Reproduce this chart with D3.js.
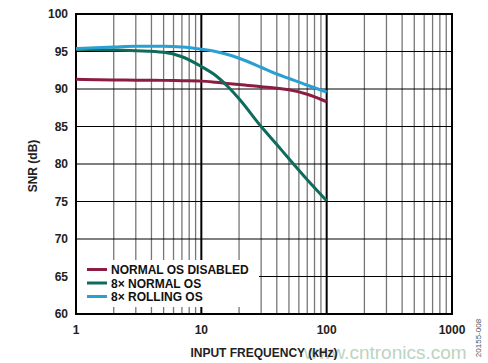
<!DOCTYPE html>
<html lang="en">
<head>
  <meta charset="utf-8">
  <script src="https://d3js.org/d3.v7.min.js"></script>
  <style>
    body { margin: 0; background: white; font-family: 'Liberation Sans', Arial, sans-serif; }
    .tick-label { font-size: 12px; font-weight: bold; fill: #222; }
    .axis-title { font-size: 12px; font-weight: bold; fill: #222; }
    .legend text { font-size: 12px; font-weight: bold; fill: #111; }
  </style>
</head>
<body>
  <svg id="chart" width="488" height="363"></svg>
  <script>
    // data
    const freqs = [1, 2, 3, 5, 7, 10, 13, 17, 20, 30, 40, 50, 70, 100];
    const normalDisabled = [91.3, 91.2, 91.18, 91.15, 91.1, 91.05, 90.9, 90.7, 90.6, 90.3, 90.1, 89.9, 89.3, 88.3];
    const normal8x = [95.3, 95.2, 95.1, 94.9, 94.3, 93.0, 91.8, 90.0, 88.7, 85.0, 82.6, 80.7, 77.9, 75.1];
    const rolling8x = [95.4, 95.6, 95.7, 95.7, 95.6, 95.3, 95.0, 94.5, 94.1, 92.9, 92.0, 91.4, 90.5, 89.6];
    const yTicks = [60, 65, 70, 75, 80, 85, 90, 95, 100];
    const xTicks = [1, 10, 100, 1000];
    const seriesNames = ["NORMAL OS DISABLED", "8\u00d7 NORMAL OS", "8\u00d7 ROLLING OS"];
    const seriesColors = ["#8c1d40", "#0f6b5c", "#2a9fd2"];

    const margin = {left: 76, right: 36, top: 14, bottom: 49};
    const W = 488, H = 363;
    const svg = d3.select("#chart");

    const x = d3.scaleLog().domain([1, 1000]).range([margin.left, W - margin.right]);
    const y = d3.scaleLinear().domain([60, 100]).range([H - margin.bottom, margin.top]);

    const grid = svg.append("g");
    // minor vertical grid
    const minor = [];
    [1, 10, 100].forEach(d => { for (let k = 2; k <= 9; k++) minor.push(d * k); });
    grid.selectAll(".minor").data(minor).enter().append("line")
      .attr("x1", d => x(d)).attr("x2", d => x(d))
      .attr("y1", y(100)).attr("y2", y(60))
      .attr("stroke", "#777").attr("stroke-width", 1.3);
    // horizontal grid
    grid.selectAll(".h").data(yTicks).enter().append("line")
      .attr("x1", x(1)).attr("x2", x(1000))
      .attr("y1", d => y(d)).attr("y2", d => y(d))
      .attr("stroke", "#000").attr("stroke-width", 1);
    // decade lines
    grid.selectAll(".major").data([10, 100]).enter().append("line")
      .attr("x1", d => x(d)).attr("x2", d => x(d))
      .attr("y1", y(100)).attr("y2", y(60))
      .attr("stroke", "#000").attr("stroke-width", 2);

    // legend background covers grid
    svg.append("rect")
      .attr("x", x(1) + 1).attr("y", 260)
      .attr("width", 182).attr("height", 47)
      .attr("fill", "white");

    // frame
    svg.append("rect")
      .attr("x", x(1)).attr("y", y(100))
      .attr("width", x(1000) - x(1)).attr("height", y(60) - y(100))
      .attr("fill", "none").attr("stroke", "#000").attr("stroke-width", 2);

    // curves
    const line = d3.line().curve(d3.curveMonotoneX)
      .x(d => x(d[0])).y(d => y(d[1]));
    [normalDisabled, normal8x, rolling8x].forEach((vals, i) => {
      svg.append("path")
        .datum(freqs.map((f, j) => [f, vals[j]]))
        .attr("d", line)
        .attr("fill", "none")
        .attr("stroke", seriesColors[i])
        .attr("stroke-width", 3);
    });

    // tick labels
    svg.selectAll(".yl").data(yTicks).enter().append("text")
      .attr("class", "tick-label")
      .attr("x", 68).attr("y", d => y(d) + 4)
      .attr("text-anchor", "end")
      .text(d => d);
    svg.selectAll(".xl").data(xTicks).enter().append("text")
      .attr("class", "tick-label")
      .attr("x", d => x(d)).attr("y", 334)
      .attr("text-anchor", "middle")
      .text(d => d);

    // watermark
    svg.append("text")
      .attr("x", 304).attr("y", 359)
      .attr("font-size", 19).attr("fill", "#bcd3bf")
      .text("www.cntronics.com");

    // axis titles
    svg.append("text")
      .attr("class", "axis-title")
      .attr("x", (x(1) + x(1000)) / 2).attr("y", 357)
      .attr("text-anchor", "middle")
      .text("INPUT FREQUENCY (kHz)");
    svg.append("text")
      .attr("class", "axis-title")
      .attr("transform", "translate(37,166) rotate(-90)")
      .attr("text-anchor", "middle")
      .text("SNR (dB)");

    // figure id
    svg.append("text")
      .attr("transform", "translate(481,338) rotate(-90)")
      .attr("text-anchor", "middle")
      .attr("font-size", 8).attr("fill", "#555")
      .text("20155-008");

    // legend
    const legend = svg.append("g").attr("class", "legend");
    const ly = [269.5, 283, 296.5];
    seriesNames.forEach((name, i) => {
      legend.append("line")
        .attr("x1", 87).attr("x2", 107)
        .attr("y1", ly[i]).attr("y2", ly[i])
        .attr("stroke", seriesColors[i]).attr("stroke-width", 3);
      legend.append("text")
        .attr("x", 111).attr("y", ly[i] + 4.5)
        .text(name);
    });
  </script>
</body>
</html>
